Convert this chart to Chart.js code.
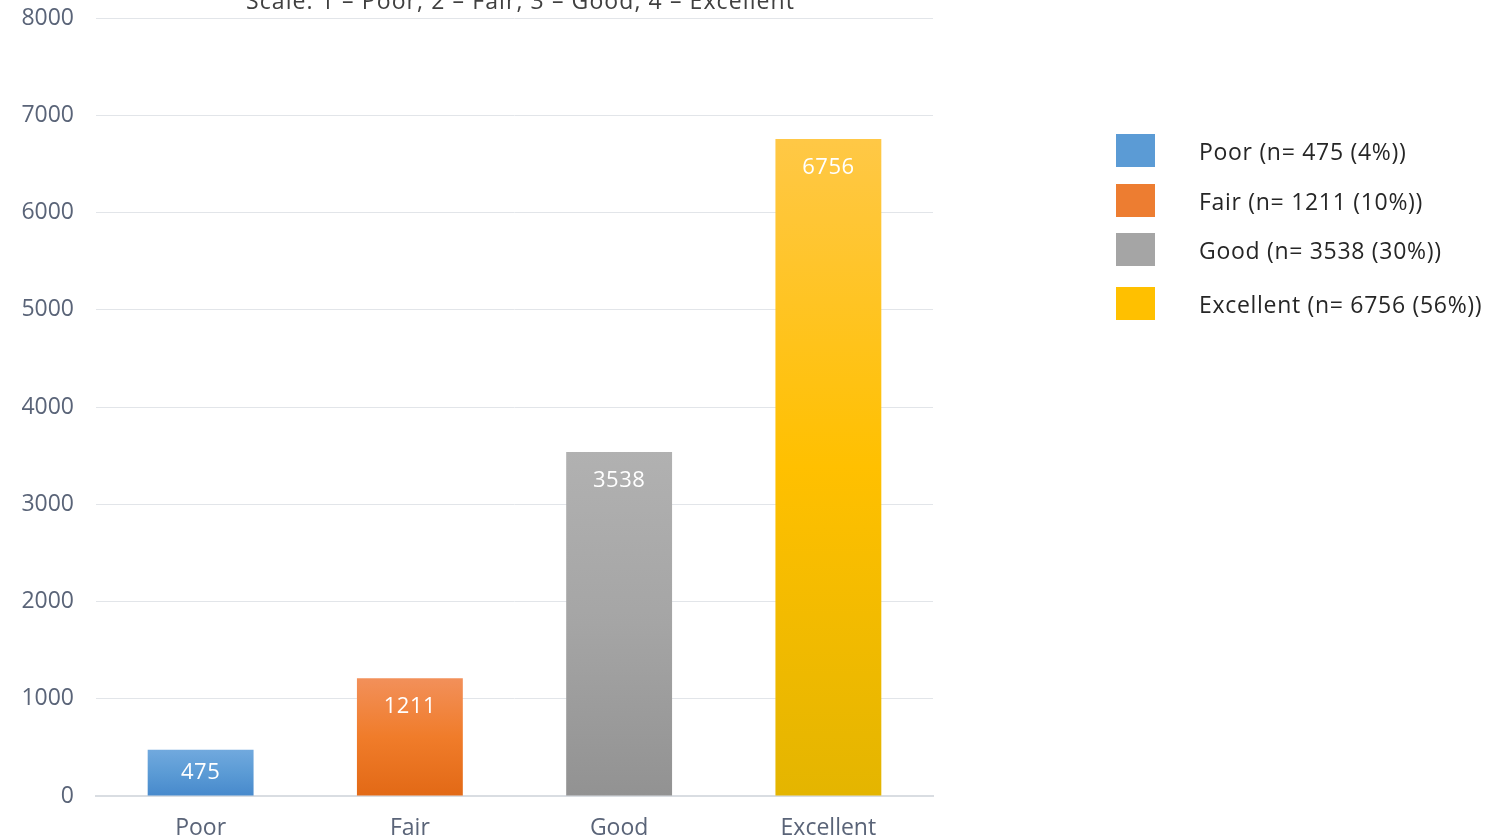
<!DOCTYPE html>
<html>
<head>
<meta charset="utf-8">
<script src="https://cdn.jsdelivr.net/npm/chart.js@4.4.1/dist/chart.umd.min.js"></script>
<style>
  html, body { margin: 0; padding: 0; background: #ffffff; overflow: hidden; }
  #wrap { position: relative; width: 1502px; height: 839px; }
</style>
</head>
<body>
<div id="wrap"><canvas id="c" width="1502" height="839"></canvas></div>
<script>
const categories = ['Poor', 'Fair', 'Good', 'Excellent'];
const counts = [475, 1211, 3538, 6756];
const shares = ['4%', '10%', '30%', '56%'];
const yTicks = [0, 1000, 2000, 3000, 4000, 5000, 6000, 7000, 8000];
const titleText = 'Scale: 1 \u2013 Poor, 2 \u2013 Fair, 3 \u2013 Good, 4 \u2013 Excellent';

const FONT = '"Open Sans", Lato, sans-serif';
const baseColors = ['#5b9bd5', '#ed7d31', '#a5a5a5', '#ffc000'];
const gradStops = [
  ['#71a9de', '#5b9bd5', '#4789cc'],
  ['#f2905a', '#f07c2a', '#e26916'],
  ['#b1b1b1', '#a5a5a5', '#929292'],
  ['#ffc846', '#ffc000', '#e4b500']
];

function barGradient(ctx) {
  const chart = ctx.chart;
  const i = ctx.dataIndex;
  if (!chart.chartArea || !chart.scales.y || i === undefined) return baseColors[i] || baseColors[0];
  const ys = chart.scales.y;
  const top = ys.getPixelForValue(counts[i]);
  const bottom = ys.getPixelForValue(0);
  const g = chart.ctx.createLinearGradient(0, top, 0, bottom);
  g.addColorStop(0, gradStops[i][0]);
  g.addColorStop(0.5, gradStops[i][1]);
  g.addColorStop(1, gradStops[i][2]);
  return g;
}

const extras = {
  id: 'extras',
  afterDatasetsDraw(chart) {
    const c = chart.ctx;
    const meta = chart.getDatasetMeta(0);
    c.save();
    c.font = '22px ' + FONT;
    c.letterSpacing = '0.5px';
    c.fillStyle = '#ffffff';
    c.textAlign = 'center';
    c.textBaseline = 'middle';
    meta.data.forEach((bar, i) => {
      const y = Math.min(bar.y + 29, (bar.y + bar.base) / 2);
      c.fillText(String(counts[i]), bar.x, y);
    });
    c.restore();
  },
  afterDraw(chart) {
    const c = chart.ctx;
    const area = chart.chartArea;
    c.save();
    c.font = '23px ' + FONT;
    c.letterSpacing = '1.1px';
    c.fillStyle = '#404040';
    c.textAlign = 'center';
    c.textBaseline = 'alphabetic';
    c.fillText(titleText, (area.left + area.right) / 2 + 6, 9);
    const boxX = 1116, boxW = 39, boxH = 33, textX = 1199;
    const rowCenters = [150.5, 200.5, 249.5, 303.5];
    c.textAlign = 'left';
    c.textBaseline = 'middle';
    c.font = '23px ' + FONT;
    c.letterSpacing = '0.7px';
    categories.forEach((cat, i) => {
      c.fillStyle = baseColors[i];
      c.fillRect(boxX, rowCenters[i] - boxH / 2, boxW, boxH);
      c.fillStyle = '#262626';
      c.fillText(cat + ' (n= ' + counts[i] + ' (' + shares[i] + '))', textX, rowCenters[i] + 3);
    });
    c.restore();
  }
};

new Chart(document.getElementById('c'), {
  type: 'bar',
  data: {
    labels: categories,
    datasets: [{
      data: counts,
      backgroundColor: barGradient,
      borderWidth: 0,
      barPercentage: 1,
      categoryPercentage: 0.506
    }]
  },
  options: {
    responsive: false,
    animation: false,
    devicePixelRatio: 1,
    layout: { padding: { left: 0, right: 569, top: 18, bottom: 0 } },
    plugins: {
      legend: { display: false },
      tooltip: { enabled: false },
      title: { display: false }
    },
    scales: {
      x: {
        grid: { display: false, drawTicks: false },
        border: { display: true, color: '#d9dde2', width: 2 },
        ticks: { color: '#5a6478', font: { family: FONT, size: 23 }, padding: 19 },
        afterFit(s) { s.height = 43; s.paddingLeft = 0; s.paddingRight = 0; }
      },
      y: {
        min: 0, max: 8000,
        afterBuildTicks(s) { s.ticks = yTicks.map(v => ({ value: v })); },
        grid: { color: '#e2e5e9', lineWidth: 1, drawTicks: false },
        border: { display: false },
        ticks: { color: '#5a6478', font: { family: FONT, size: 23, lineHeight: 1.0 }, padding: 22, callback: v => String(v) },
        afterFit(s) { s.width = 96; s.paddingTop = 0; s.paddingBottom = 0; }
      }
    }
  },
  plugins: [extras]
});
</script>
</body>
</html>
